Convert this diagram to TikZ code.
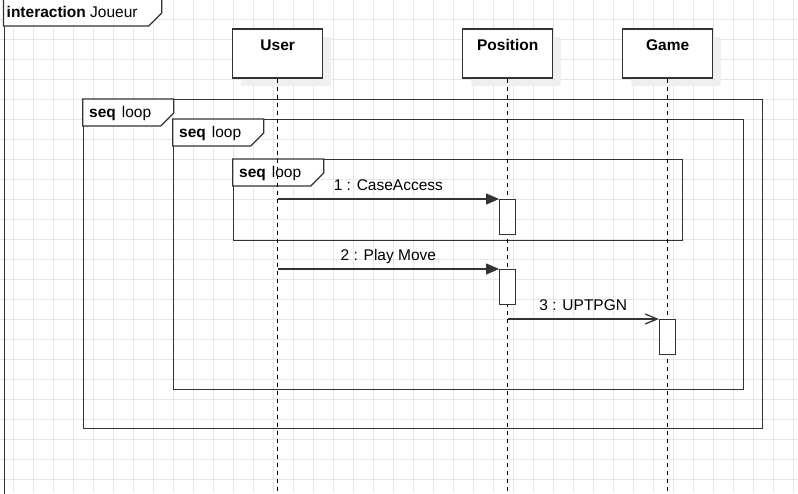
\documentclass[tikz,border=0pt]{standalone}
\usepackage{fontspec}
\setmainfont{Liberation Sans}
\usetikzlibrary{arrows.meta}
\definecolor{ln}{RGB}{51,51,51}
\definecolor{gr}{RGB}{230,230,230}
\newcommand{\diafont}{\fontsize{15.5pt}{18pt}\selectfont}

\tikzset{
  head/.style={rectangle, draw=ln, fill=white, line width=1.3pt, minimum width=90pt, minimum height=49pt, inner sep=0pt, font=\diafont\bfseries, text height=11pt, text depth=18pt},
  headshade/.style={rectangle, fill=black!6, minimum width=90pt, minimum height=49pt, inner sep=0pt},
  frm/.style={rectangle, draw=ln, line width=1.3pt, inner sep=0pt, anchor=north west},
  tabline/.style={draw=ln, line width=1.3pt, fill=white},
  tabtext/.style={anchor=base west, inner sep=0pt, font=\diafont},
  life/.style={draw=black, line width=1pt, dash pattern=on 4pt off 4pt},
  act/.style={rectangle, draw=ln, fill=white, line width=1.3pt, minimum width=16pt, minimum height=35pt, inner sep=0pt, anchor=north},
  sync/.style={draw=ln, line width=1.3pt, -{Triangle[length=13pt,width=11pt]}},
  open/.style={draw=ln, line width=1.3pt, -{Straight Barb[length=12pt,width=10pt]}},
  msg/.style={inner sep=0pt, font=\diafont, text height=11.5pt, text depth=3.5pt, above=4.8pt},
}

% tab of a frame: node, width, height
\newcommand{\frametab}[3]{
  \draw[tabline] (#1.north west) -- ++(#2,0) -- ++(0,#3-13) -- ++(-13,13) -- ++(-#2+13,0) -- cycle;
}

\begin{document}
\begin{tikzpicture}[x=1pt, y=-1pt]
\useasboundingbox (0,0) rectangle (798,493);
\clip (0,0) rectangle (798,493);
\fill[white] (0,0) rectangle (798,493);
% grid
\foreach \gx in {13.3,33.3,...,798} \draw[gr, line width=0.8pt] (\gx,0) -- (\gx,493);
\foreach \gy in {19.3,39.3,...,493} \draw[gr, line width=0.8pt] (0,\gy) -- (798,\gy);

% interaction frame
\node (joueur) [frm, minimum width=900pt, minimum height=600pt] at (3.5,-1) {};
\frametab{joueur}{158.2}{27}
\node (joueurlbl) [tabtext] at (6.5,17) {\textbf{interaction} Joueur};

% lifeline heads
\node (usershade) [headshade] at (285.7,61.5) {};
\node (posshade) [headshade] at (515.7,61.5) {};
\node (gameshade) [headshade] at (675.7,61.5) {};
\node (user) [head] at (277.7,53.5) {User};
\node (pos) [head] at (507.7,53.5) {Position};
\node (game) [head] at (667.7,53.5) {Game};

% loops
\node (loopA) [frm, minimum width=679pt, minimum height=328.7pt] at (82.7,99) {};
\node (loopB) [frm, minimum width=570.3pt, minimum height=270pt] at (172.7,119) {};
\node (loopC) [frm, minimum width=449.3pt, minimum height=81pt] at (232.7,159) {};
\frametab{loopA}{91}{27}
\frametab{loopB}{91}{27}
\frametab{loopC}{91}{27}
\node (loopAlbl) [tabtext] at (89,117) {\textbf{seq}\hspace{6pt}loop};
\node (loopBlbl) [tabtext] at (179,137) {\textbf{seq}\hspace{6pt}loop};
\node (loopClbl) [tabtext] at (239,177) {\textbf{seq}\hspace{6pt}loop};

% lifelines
\coordinate (userend) at (277.7,500);
\coordinate (posend) at (507.7,500);
\coordinate (gameend) at (667.7,500);
\draw[life] (user.south) -- (userend);
\draw[life] (pos.south) -- (posend);
\draw[life] (game.south) -- (gameend);

% activations
\node (act1) [act] at (507.7,199) {};
\node (act2) [act] at (507.7,269) {};
\node (act3) [act] at (667.5,319) {};

% messages
\coordinate (m1) at (277.7,199);
\coordinate (m2) at (277.7,269);
\coordinate (m3) at (507.7,319);
\draw[sync] (m1) -- (act1.north west) node[midway, msg] {1 : CaseAccess};
\draw[sync] (m2) -- (act2.north west) node[midway, msg] {2 : Play Move};
\draw[open] (m3) -- (act3.north west) node[midway, msg] {3 : UPTPGN};
\end{tikzpicture}
\end{document}
